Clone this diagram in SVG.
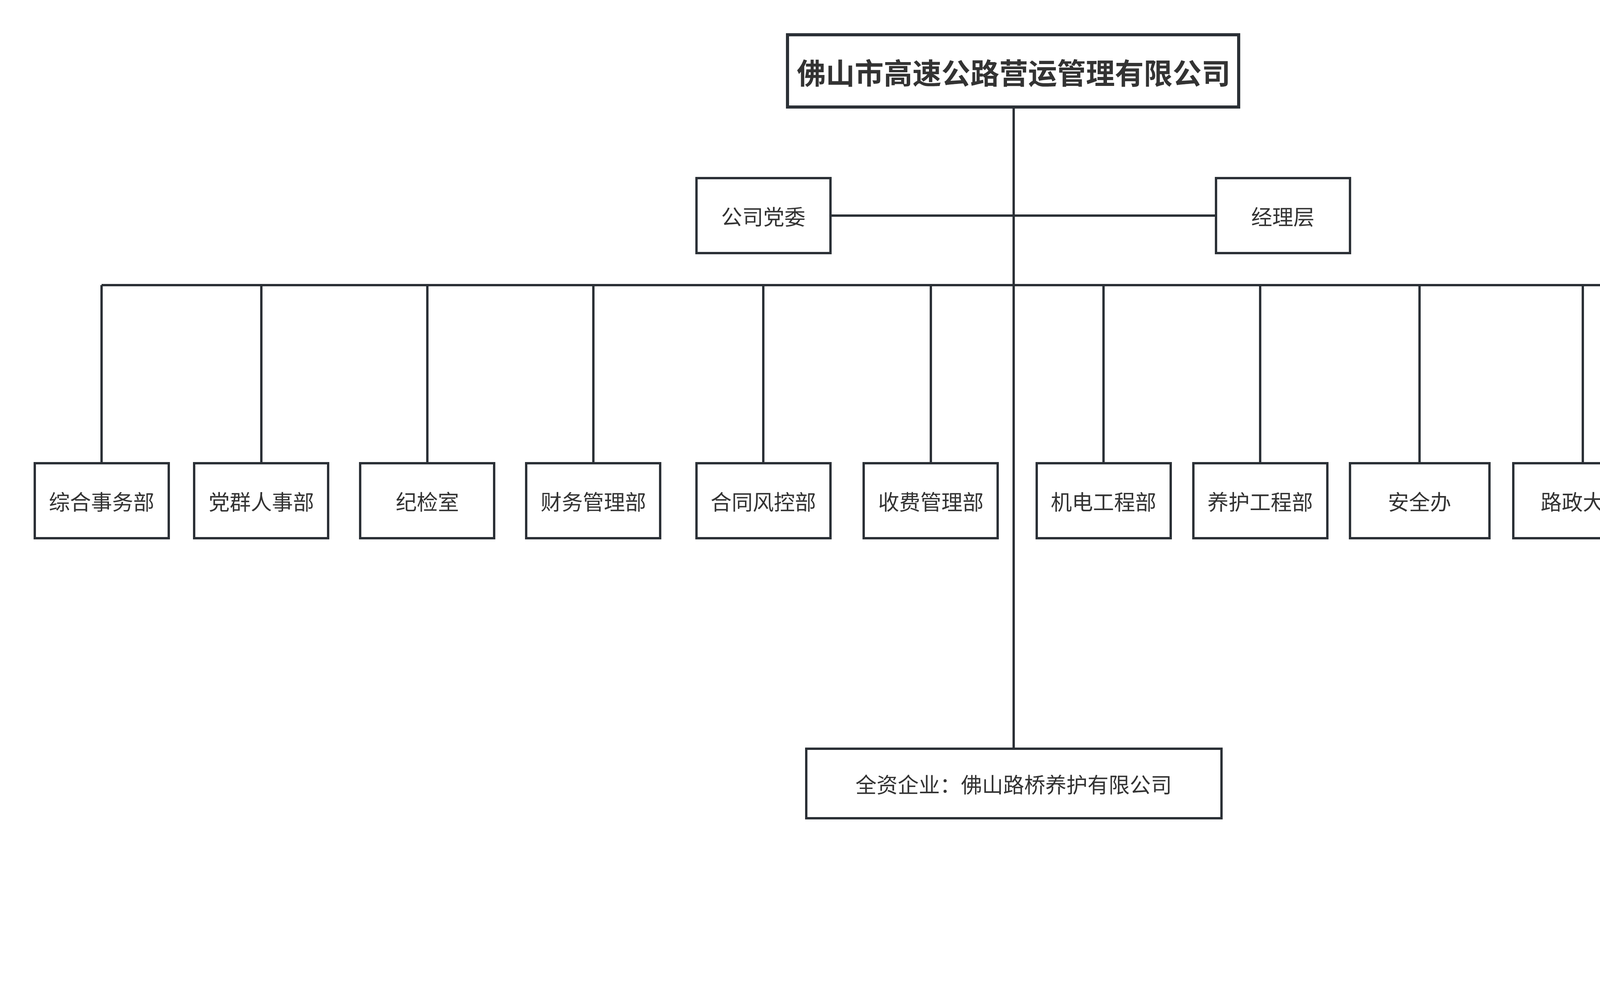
<svg xmlns="http://www.w3.org/2000/svg" width="5376" height="2545" viewBox="0 0 5376 2545">
<style>
rect{fill:#fff;stroke:#2b3036;stroke-width:6}
text{font-family:"Noto Sans CJK SC","Noto Sans",sans-serif;font-size:54px;fill:#333;text-anchor:middle;dominant-baseline:central}
.t{font-size:74px;font-weight:bold}
#connectors path{fill:none;stroke:#2b3036;stroke-width:6}
</style>
<rect x="0" y="0" width="5376" height="2545" style="stroke:none"/>
<g id="connectors">
<path d="M2595 274V1917M2126 552H3113M260 730H4330V2359M260 730V1186M669 730V1186M1094 730V1186M1519 730V1186M1954 730V1186M2383 730V1186M2825 730V1186M3226 730V1186M3634 730V1186M4052 730V1186M4330 1296H4437M4330 1557H4437M4330 1821H4437M4330 2088H4437M4330 2359H4437"/>
</g>
<g id="root"><rect x="2016" y="89" width="1155" height="185" style="stroke-width:8"/><text class="t" x="2595" y="182">佛山市高速公路营运管理有限公司</text></g>
<g id="party"><rect x="1783" y="456" width="343" height="192"/><text x="1954" y="552">公司党委</text></g>
<g id="mgr"><rect x="3113" y="456" width="343" height="192"/><text x="3284" y="552">经理层</text></g>
<g id="d1"><rect x="89" y="1186" width="343" height="192"/><text x="260" y="1282">综合事务部</text></g>
<g id="d2"><rect x="497" y="1186" width="343" height="192"/><text x="669" y="1282">党群人事部</text></g>
<g id="d3"><rect x="922" y="1186" width="343" height="192"/><text x="1094" y="1282">纪检室</text></g>
<g id="d4"><rect x="1347" y="1186" width="343" height="192"/><text x="1519" y="1282">财务管理部</text></g>
<g id="d5"><rect x="1783" y="1186" width="343" height="192"/><text x="1954" y="1282">合同风控部</text></g>
<g id="d6"><rect x="2211" y="1186" width="343" height="192"/><text x="2383" y="1282">收费管理部</text></g>
<g id="d7"><rect x="2654" y="1186" width="343" height="192"/><text x="2825" y="1282">机电工程部</text></g>
<g id="d8"><rect x="3055" y="1186" width="343" height="192"/><text x="3226" y="1282">养护工程部</text></g>
<g id="d9"><rect x="3456" y="1186" width="357" height="192"/><text x="3634" y="1282">安全办</text></g>
<g id="d10"><rect x="3874" y="1186" width="357" height="192"/><text x="4052" y="1282">路政大队</text></g>
<g id="c1"><rect x="4437" y="1200" width="829" height="192"/><text x="4851" y="1296">北滘收费管理中心</text></g>
<g id="c2"><rect x="4437" y="1461" width="850" height="192"/><text x="4862" y="1557">下安收费管理中心</text></g>
<g id="c3"><rect x="4437" y="1725" width="829" height="192"/><text x="4851" y="1821">乐平收费管理中心</text></g>
<g id="c4"><rect x="4437" y="1992" width="829" height="192"/><text x="4851" y="2088">番村收费管理中心</text></g>
<g id="c5"><rect x="4437" y="2263" width="829" height="192"/><text x="4851" y="2359">官窑收费管理中心</text></g>
<g id="sub"><rect x="2064" y="1917" width="1063" height="178"/><text x="2595" y="2006">全资企业：佛山路桥养护有限公司</text></g>
</svg>
